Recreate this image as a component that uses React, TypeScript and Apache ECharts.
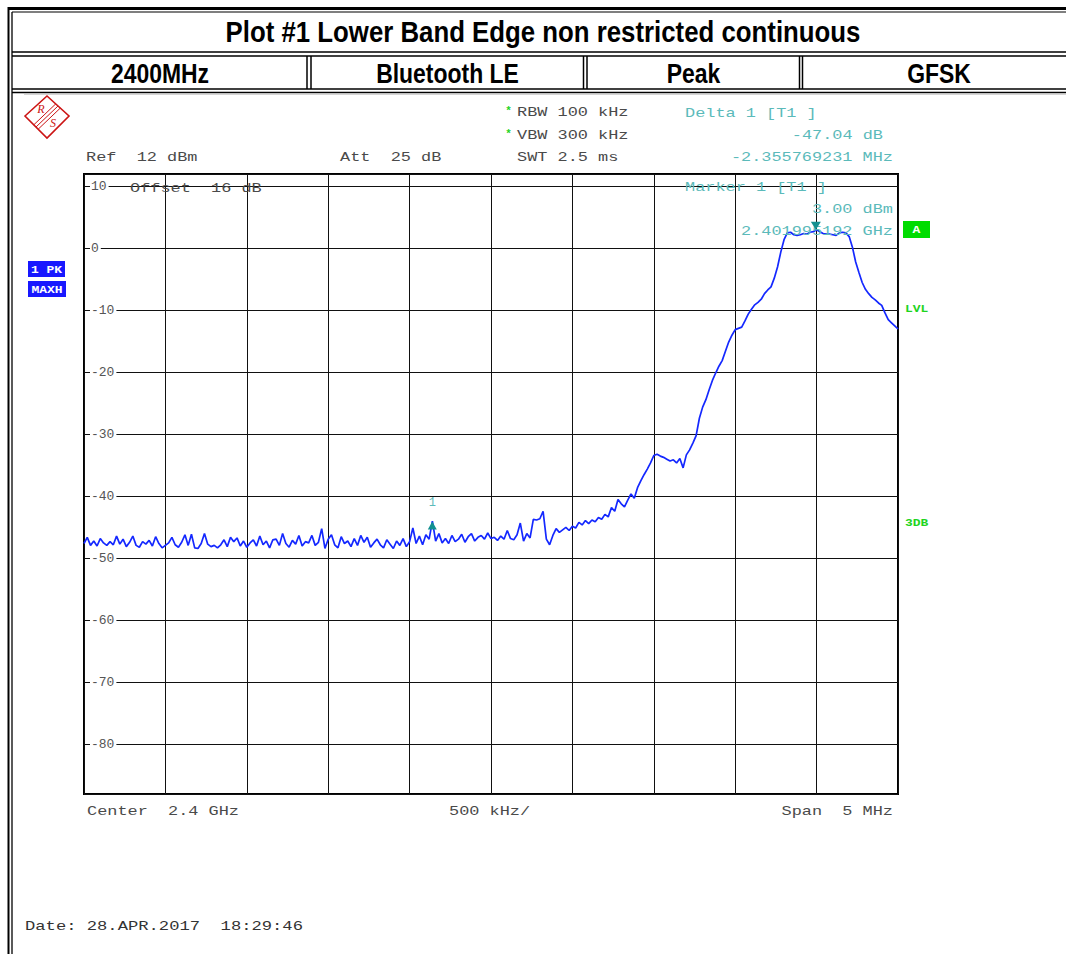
import React, { useEffect, useRef } from "react";
import * as echarts from "echarts";

// ---------- data ----------
const TITLE = "Plot #1 Lower Band Edge non restricted continuous";
const HEADER_CELLS = ["2400MHz", "Bluetooth LE", "Peak", "GFSK"];

const FREQ_START_MHZ = 2397.5;
const FREQ_STOP_MHZ = 2402.5;
const FREQ_STEP_MHZ = 0.02;
const FREQ_DIV_MHZ = 0.5;
const REF_LEVEL_DBM = 12;
const BOTTOM_LEVEL_DBM = -88;
const Y_TICKS = [10, 0, -10, -20, -30, -40, -50, -60, -70, -80];

const MARKER_FREQ_MHZ = 2401.995192;
const MARKER_LEVEL_DBM = 3.0;
const DELTA_FREQ_OFFSET_MHZ = -2.355769231;
const DELTA_LEVEL_DB = -47.04;

const TRACE_DBM = [
  -47.6, -46.6, -47.9, -47.2, -48.0, -46.8, -47.5, -47.9, -47.3, -47.8,
  -46.4, -47.7, -46.9, -48.1, -47.4, -46.4, -47.9, -48.2, -47.3, -47.7,
  -47.1, -48.0, -46.5, -47.6, -48.3, -47.9, -47.5, -46.6, -47.8, -48.2,
  -47.4, -46.2, -47.9, -46.1, -48.3, -48.4, -47.6, -46.0, -47.7, -48.1,
  -47.9, -48.3, -47.8, -47.0, -48.1, -46.6, -47.3, -46.7, -48.0, -47.2,
  -48.2, -47.5, -47.0, -48.0, -46.4, -47.8, -47.2, -48.3, -47.0, -46.9,
  -47.9, -46.0, -47.6, -48.2, -47.1, -47.7, -46.3, -48.0, -47.3, -47.5,
  -46.3, -47.9, -47.4, -45.2, -48.4, -46.9,
  -46.2, -47.8, -48.3, -46.5, -47.6, -47.2, -48.1, -46.8, -47.9, -46.3,
  -47.4, -46.6, -48.2, -47.5, -46.9, -47.8, -48.3, -47.0, -47.7, -48.4,
  -47.2, -47.9, -46.8, -48.1, -47.3, -45.1, -47.6, -46.4, -47.8, -46.2,
  -46.9, -44.0, -47.2, -46.0, -47.5, -46.8, -47.6, -46.3, -47.3, -46.9,
  -46.1, -47.4, -46.5, -46.0, -47.2, -46.6, -46.3, -46.9, -45.9, -46.8,
  -46.6, -47.1, -46.4, -46.9, -45.5, -46.8, -47.0, -46.2, -44.3, -47.2,
  -46.0, -46.7, -43.7, -43.8, -43.6, -42.4, -46.9, -47.8, -46.3, -45.2,
  -45.8, -45.4, -45.0, -45.5, -44.8,
  -45.1, -44.2, -44.6, -43.9, -44.4, -43.8, -44.1, -43.4, -43.7, -42.9,
  -43.3, -41.8, -42.4, -40.5, -41.2, -41.7, -40.6, -39.6, -40.3, -38.6,
  -37.5, -36.5, -35.6, -34.6, -33.4, -33.2, -33.5, -33.7, -34.0, -34.3,
  -34.1, -34.6, -33.9, -35.4, -33.3, -32.5, -31.4, -30.2, -27.4, -25.6,
  -24.4, -22.8, -21.3, -20.1, -19.0, -18.1, -16.6, -15.1, -14.0, -13.1,
  -12.9, -12.7, -11.7, -10.6, -9.8, -9.1, -8.7, -8.2, -7.3, -6.7,
  -6.2, -4.8, -3.0, -0.6, 1.4, 2.5, 2.6, 2.2, 2.1, 2.2,
  2.4, 2.3, 2.6, 2.7, 3.0, 2.7, 2.4, 2.3, 2.3, 2.2,
  2.1, 2.5, 2.6, 2.5, 1.9, 0.2, -2.2, -3.9, -5.5, -6.6,
  -7.3, -7.9, -8.3, -8.8, -9.2, -10.4, -11.5, -12.0, -12.5, -13.0,
];

const INFO_LEFT = [
  { text: "Ref  12 dBm", x: 86, y: 158 },
  { text: "Att  25 dB", x: 340, y: 158 },
  { text: "RBW 100 kHz", x: 517, y: 113 },
  { text: "VBW 300 kHz", x: 517, y: 136 },
  { text: "SWT 2.5 ms", x: 517, y: 158 },
];
const MARKER_INFO = [
  { text: "Delta 1 [T1 ]", x: 685, y: 114, align: "left" },
  { text: "-47.04 dB", x: 883, y: 136, align: "right" },
  { text: "-2.355769231 MHz", x: 893, y: 158, align: "right" },
  { text: "Marker 1 [T1 ]", x: 685, y: 188, align: "left" },
  { text: "3.00 dBm", x: 893, y: 210, align: "right" },
  { text: "2.401995192 GHz", x: 893, y: 232, align: "right" },
];
const FOOTER = [
  { text: "Center  2.4 GHz", x: 87, y: 812, align: "left" },
  { text: "500 kHz/", x: 449, y: 812, align: "left" },
  { text: "Span  5 MHz", x: 893, y: 812, align: "right" },
];

// ---------- styles ----------
const MONO = '"Liberation Mono", "DejaVu Sans Mono", monospace';
const GRAY = "#4a4a4a";
const TEAL = "#5bbaba";
const TEAL_DARK = "#139090";
const TRACE_BLUE = "#1428ff";
const GREEN = "#1fd41f";

function mono(text: string, x: number, y: number, fill: string, align = "left", extra: any = {}) {
  return {
    type: "text",
    x,
    y,
    scaleX: 1.3,
    z: 5,
    style: {
      text,
      font: `13px ${MONO}`,
      fill,
      align,
      verticalAlign: "middle",
      textAlign: align,
      textVerticalAlign: "middle",
    },
    ...extra,
  };
}

function hline(x1: number, x2: number, y: number, w: number, color = "#000") {
  return { type: "line", shape: { x1, y1: y, x2, y2: y }, style: { stroke: color, lineWidth: w }, z: 5 };
}
function vline(x: number, y1: number, y2: number, w: number, color = "#000") {
  return { type: "line", shape: { x1: x, y1, x2: x, y2 }, style: { stroke: color, lineWidth: w }, z: 5 };
}

function buildGraphic() {
  const g: any[] = [];
  // header table
  g.push({ type: "rect", shape: { x: 8, y: 7, width: 1058, height: 3 }, style: { fill: "#000" }, z: 5 });
  g.push(hline(12, 1066, 12, 1.2));
  g.push(hline(12, 1066, 52, 1.5));
  g.push(hline(12, 1066, 56, 1.5));
  g.push(hline(12, 1066, 89, 1.5));
  g.push(hline(12, 1066, 92.5, 1.5));
  g.push(hline(24, 1066, 94.5, 1, "#d4d4d4"));
  g.push(vline(8.5, 7, 954, 2));
  g.push(vline(12, 12, 954, 1.3));
  [307, 311, 583.5, 587, 799.5, 802.5].forEach((x) => g.push(vline(x, 56, 89, 1.5)));
  g.push({
    type: "text",
    x: 543,
    y: 32,
    scaleX: 0.86,
    z: 5,
    style: {
      text: TITLE,
      font: 'bold 30px "Liberation Sans", Arial, sans-serif',
      fill: "#000",
      align: "center",
      verticalAlign: "middle",
      textAlign: "center",
      textVerticalAlign: "middle",
    },
  });
  const cellCenters = [160, 447.5, 693.5, 939];
  HEADER_CELLS.forEach((t, i) =>
    g.push({
      type: "text",
      x: cellCenters[i],
      y: 73.5,
      scaleX: 0.85,
      z: 5,
      style: {
        text: t,
        font: 'bold 27px "Liberation Sans", Arial, sans-serif',
        fill: "#000",
        align: "center",
        verticalAlign: "middle",
        textAlign: "center",
        textVerticalAlign: "middle",
      },
    })
  );

  // R&S logo
  const red = "#cc1414";
  g.push({
    type: "polygon",
    shape: { points: [[25, 116], [47, 96], [69, 116], [47, 138]] },
    style: { fill: "none", stroke: red, lineWidth: 1.6 },
    z: 5,
  });
  [-2.2, 0, 2.2].forEach((d) =>
    g.push({
      type: "line",
      shape: { x1: 58 + d, y1: 106 + d, x2: 36 + d, y2: 127 + d },
      style: { stroke: red, lineWidth: 1 },
      z: 5,
    })
  );
  g.push({
    type: "text", x: 41, y: 109, z: 5,
    style: { text: "R", font: 'italic 12px "Liberation Serif", serif', fill: red, align: "center", verticalAlign: "middle", textAlign: "center", textVerticalAlign: "middle" },
  });
  g.push({
    type: "text", x: 53, y: 123, z: 5,
    style: { text: "S", font: 'italic 12px "Liberation Serif", serif', fill: red, align: "center", verticalAlign: "middle", textAlign: "center", textVerticalAlign: "middle" },
  });

  // instrument settings
  INFO_LEFT.forEach((t) => g.push(mono(t.text, t.x, t.y, GRAY)));
  [111, 134].forEach((y) =>
    g.push({
      type: "text", x: 508.5, y: y, z: 5,
      style: { text: "*", font: `bold 11px ${MONO}`, fill: GREEN, align: "center", verticalAlign: "middle", textAlign: "center", textVerticalAlign: "middle" },
    })
  );
  MARKER_INFO.forEach((t) => g.push(mono(t.text, t.x, t.y, TEAL, t.align)));
  g.push(mono("Offset  16 dB", 130, 189, GRAY));
  FOOTER.forEach((t) => g.push(mono(t.text, t.x, t.y, GRAY, t.align)));
  g.push(mono("Date: 28.APR.2017  18:29:46", 25, 927, "#333", "left", { scaleX: 1.32 }));

  // trace labels on left
  const boxText = (text: string, cx: number, cy: number) => ({
    type: "text", x: cx, y: cy, scaleX: 1.3, z: 6,
    style: { text, font: `bold 10px ${MONO}`, fill: "#fff", align: "center", verticalAlign: "middle", textAlign: "center", textVerticalAlign: "middle" },
  });
  g.push({ type: "rect", shape: { x: 28, y: 261, width: 37, height: 16 }, style: { fill: "#1818ff" }, z: 5 });
  g.push(boxText("1 PK", 46.5, 270));
  g.push({ type: "rect", shape: { x: 28, y: 281, width: 38, height: 16 }, style: { fill: "#1818ff" }, z: 5 });
  g.push(boxText("MAXH", 47, 290));

  // right side labels
  g.push({ type: "rect", shape: { x: 903, y: 221, width: 27, height: 17 }, style: { fill: "#00dc00" }, z: 5 });
  g.push(boxText("A", 916.5, 230));
  const greenLabel = (text: string, y: number) => ({
    type: "text", x: 905, y, scaleX: 1.3, z: 5,
    style: { text, font: `bold 10px ${MONO}`, fill: GREEN, align: "left", verticalAlign: "middle", textAlign: "left", textVerticalAlign: "middle" },
  });
  g.push(greenLabel("LVL", 309));
  g.push(greenLabel("3DB", 523));
  return g;
}

export default function App() {
  const ref = useRef<HTMLDivElement>(null);
  useEffect(() => {
    document.body.style.margin = "0";
    if (!ref.current) return;
    const chart = echarts.init(ref.current, undefined, { renderer: "svg" });
    const traceData = TRACE_DBM.map((v, i) => [FREQ_START_MHZ + i * FREQ_STEP_MHZ, v]);
    const deltaFreq = MARKER_FREQ_MHZ + DELTA_FREQ_OFFSET_MHZ;
    const deltaLevel = MARKER_LEVEL_DBM + DELTA_LEVEL_DB;
    chart.setOption({
      animation: false,
      backgroundColor: "#fff",
      grid: {
        left: 84,
        top: 174,
        width: 814,
        height: 620,
        show: true,
        borderColor: "#000",
        borderWidth: 2,
        backgroundColor: "transparent",
      },
      xAxis: {
        type: "value",
        min: FREQ_START_MHZ,
        max: FREQ_STOP_MHZ,
        interval: FREQ_DIV_MHZ,
        axisLine: { show: false },
        axisTick: { show: false },
        axisLabel: { show: false },
        splitLine: { show: true, lineStyle: { color: "#111", width: 1 } },
      },
      yAxis: {
        type: "value",
        min: BOTTOM_LEVEL_DBM,
        max: REF_LEVEL_DBM,
        splitNumber: 10,
        axisLine: { show: false },
        axisTick: { show: false },
        axisLabel: {
          inside: true,
          margin: 6,
          customValues: Y_TICKS,
          color: "#555",
          fontFamily: MONO,
          fontSize: 13,
          backgroundColor: "#fff",
          padding: [2, 2, 0, 1],
        },
        splitLine: { show: true, lineStyle: { color: "#111", width: 1 } },
      },
      series: [
        {
          type: "line",
          data: traceData,
          showSymbol: false,
          symbol: "none",
          lineStyle: { color: TRACE_BLUE, width: 1.7 },
          z: 3,
          markPoint: {
            silent: true,
            data: [
              {
                coord: [MARKER_FREQ_MHZ, MARKER_LEVEL_DBM],
                symbol: "triangle",
                symbolSize: [10, 8],
                symbolRotate: 180,
                symbolOffset: [0, -4],
                itemStyle: { color: TEAL_DARK },
                label: { show: false },
              },
              {
                coord: [deltaFreq, deltaLevel],
                symbol: "triangle",
                symbolSize: [9, 8],
                symbolOffset: [0, 4],
                itemStyle: { color: TEAL_DARK },
                label: {
                  show: true,
                  formatter: "1",
                  position: "top",
                  distance: 12,
                  color: TEAL,
                  fontFamily: MONO,
                  fontSize: 12,
                },
              },
            ],
          },
        },
      ],
      graphic: buildGraphic(),
    });
    return () => chart.dispose();
  }, []);
  return <div ref={ref} style={{ width: 1066, height: 954, position: "absolute", left: 0, top: 0 }} />;
}
